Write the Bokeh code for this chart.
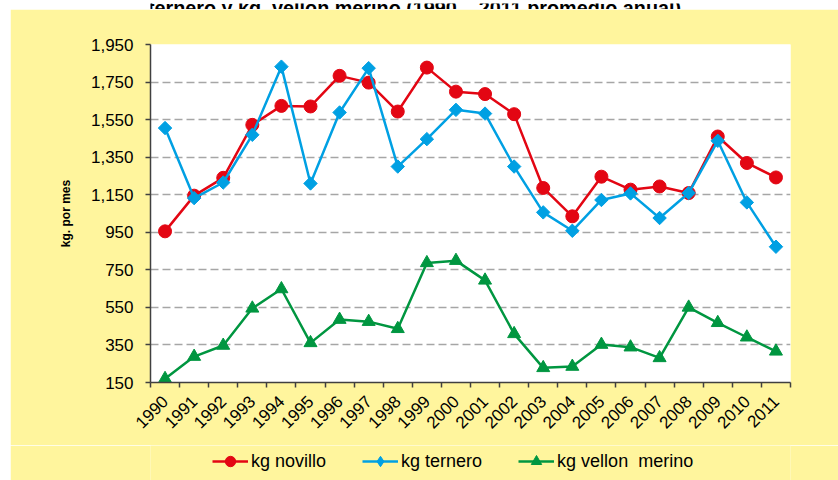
import numpy as np
from bokeh.plotting import figure
from bokeh.models import (FixedTicker, Legend, LegendItem, Range1d, NumeralTickFormatter,
                          Label, Spacer)
from bokeh.layouts import row, column
from bokeh.embed import file_html
from bokeh.resources import INLINE

years = ["1990", "1991", "1992", "1993", "1994", "1995", "1996", "1997", "1998", "1999", "2000",
         "2001", "2002", "2003", "2004", "2005", "2006", "2007", "2008", "2009", "2010", "2011"]
novillo = [955, 1145, 1240, 1522, 1623, 1620, 1783, 1747, 1593, 1827, 1699,
           1686, 1579, 1186, 1035, 1246, 1177, 1194, 1159, 1460, 1319, 1242]
ternero = [1505, 1132, 1215, 1469, 1832, 1210, 1588, 1824, 1300, 1446, 1602,
           1582, 1300, 1056, 958, 1122, 1157, 1026, 1159, 1437, 1109, 873]
vellon = [170, 288, 347, 545, 648, 361, 485, 474, 436, 787, 799,
          694, 409, 228, 235, 352, 338, 281, 550, 468, 391, 316]
y_ticks = [150, 350, 550, 750, 950, 1150, 1350, 1550, 1750, 1950]
series_names = ["kg novillo", "kg ternero", "kg vellon  merino"]
title_text = "kg.novillo, kg. ternero y kg. vellon merino (1990 \u2013 2011 promedio anual)."

RED = "#E30613"
BLUE = "#00A0E3"
GREEN = "#009640"
YELLOW = "#FFF59D"
FONT = "Liberation Sans"

n = len(years)
x = np.arange(n) + 0.5
bounds = np.arange(n + 1)

# ---- cropped document title strip (only the lower part of the text is visible) ----
tf = figure(width=828, height=9, x_range=Range1d(0, 1), y_range=Range1d(0, 1),
            x_axis_location=None, y_axis_location=None, output_backend="svg",
            toolbar_location=None, min_border=0, outline_line_color=None,
            background_fill_color="white", border_fill_color="white")
tf.xgrid.visible = False
tf.ygrid.visible = False
tf.add_layout(Label(x=-140, y=4.5, x_units="screen", y_units="screen", text=title_text,
                    text_font=FONT, text_font_style="bold", text_font_size="19.8px",
                    text_color="black", text_baseline="alphabetic"))

# ---- main chart ----
p = figure(width=828, height=436, x_range=Range1d(0, n), y_range=Range1d(y_ticks[0], y_ticks[-1]),
           output_backend="svg", toolbar_location=None,
           min_border_left=140, min_border_right=48, min_border_top=35, min_border_bottom=63,
           background_fill_color="white", border_fill_color=YELLOW, outline_line_color=None)

p.yaxis.ticker = FixedTicker(ticks=y_ticks)
p.yaxis.formatter = NumeralTickFormatter(format="0,0")
p.yaxis.major_tick_out = 5
p.yaxis.major_tick_in = 0
p.yaxis.minor_tick_line_color = None
p.yaxis.major_label_standoff = 12
p.yaxis.major_label_text_font = FONT
p.yaxis.major_label_text_font_size = "17px"
p.yaxis.major_label_text_color = "black"
p.yaxis.axis_line_color = "#404040"
p.yaxis.axis_line_width = 1.5
p.yaxis.major_tick_line_color = "#404040"
p.yaxis.major_tick_line_width = 1.5
p.yaxis.axis_label = "kg. por mes"
p.yaxis.axis_label_text_font = FONT
p.yaxis.axis_label_text_font_style = "bold"
p.yaxis.axis_label_text_font_size = "12px"
p.yaxis.axis_label_standoff = 15
p.yaxis.axis_label_text_color = "black"

p.xaxis.ticker = FixedTicker(ticks=list(x), minor_ticks=list(bounds))
p.xaxis.major_label_overrides = {float(xx): yy for xx, yy in zip(x, years)}
p.xaxis.major_tick_line_color = None
p.xaxis.major_tick_out = 0
p.xaxis.major_tick_in = 0
p.xaxis.minor_tick_out = 5
p.xaxis.minor_tick_in = 0
p.xaxis.minor_tick_line_color = "#404040"
p.xaxis.minor_tick_line_width = 1.5
p.xaxis.axis_line_color = "#404040"
p.xaxis.axis_line_width = 1.5
p.xaxis.major_label_orientation = np.pi / 4
p.xaxis.major_label_standoff = 11
p.xaxis.major_label_text_font = FONT
p.xaxis.major_label_text_font_size = "17px"
p.xaxis.major_label_text_color = "black"

p.xgrid.visible = False
p.ygrid.grid_line_color = "#A6A6A6"
p.ygrid.grid_line_dash = "8 4"
p.ygrid.grid_line_width = 1.5

p.line(x, novillo, line_color=RED, line_width=2.5)
p.scatter(x, novillo, marker="circle", size=13, fill_color=RED, line_color=RED)
p.line(x, ternero, line_color=BLUE, line_width=2.5)
p.scatter(x, ternero, marker="square", angle=np.pi / 4, size=9.5, fill_color=BLUE, line_color=BLUE)
p.line(x, vellon, line_color=GREEN, line_width=2.5)
p.scatter(x, vellon, marker="triangle", size=13, fill_color=GREEN, line_color=GREEN)

# ---- legend strip below the chart ----
lf = figure(width=828, height=35, x_range=Range1d(0, 1), y_range=Range1d(0, 1),
            x_axis_location=None, y_axis_location=None, output_backend="svg",
            toolbar_location=None, min_border=0, outline_line_color=None,
            background_fill_color=YELLOW, border_fill_color=YELLOW)
lf.xgrid.visible = False
lf.ygrid.visible = False
items = []
for name, col, mk in zip(series_names, [RED, BLUE, GREEN], ["circle", "diamond", "triangle"]):
    # legend-only renderers, placed outside the visible range
    rl = lf.line([-5, -4], [-5, -4], line_color=col, line_width=2.5)
    rs = lf.scatter([-5], [-5], marker=mk, size=10, fill_color=col, line_color=col)
    items.append(LegendItem(label=name, renderers=[rl, rs]))

legend = Legend(items=items, orientation="horizontal", location=(62, 6),
                glyph_width=36, glyph_height=26, label_standoff=3, spacing=36,
                padding=0, margin=0, border_line_color=None, background_fill_alpha=0,
                label_text_font=FONT, label_text_font_size="18px", label_text_color="black")
lf.add_layout(legend)

layout = row(Spacer(width=10, height=480), column(tf, p, lf))

open("out.html", "w").write(file_html(layout, INLINE))
